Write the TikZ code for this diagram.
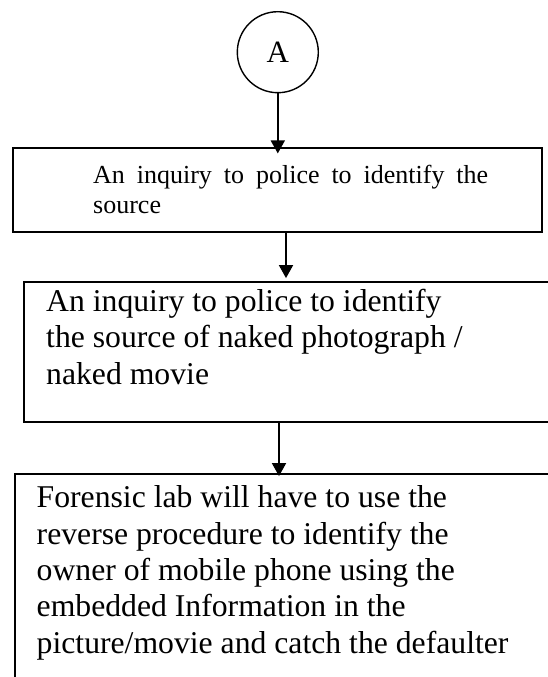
\documentclass[tikz,border=0pt]{standalone}
\usepackage{fontspec}
\setmainfont{Liberation Serif}
\usetikzlibrary{arrows.meta}
\tikzset{
  boxshape/.style={draw, line width=1.8pt, rectangle, inner sep=0pt},
  circshape/.style={draw, line width=1.4pt, circle, minimum size=81pt, inner sep=0pt, font=\fontsize{31}{36}\selectfont},
  arr/.style={line width=1.8pt, -{Triangle[length=13pt,width=14pt]}},
  txt/.style={anchor=base west, inner sep=0pt, align=left}
}
\begin{document}
\begin{tikzpicture}[x=1pt,y=-1pt]
\useasboundingbox (0,0) rectangle (548,677);
\clip (0,0) rectangle (548,677);
\fill[white] (0,0) rectangle (548,677);
% circle
\node[circshape] (A) at (277.8,52.2) {A};
% boxes
\node[boxshape, minimum width=529pt, minimum height=84pt] (b1) at (277.5,190.3) {};
\node[boxshape, minimum width=546pt, minimum height=140pt] (b2) at (297,352) {};
\node[boxshape, minimum width=560pt, minimum height=230pt] (b3) at (295,589) {};
% texts (anchored at the baseline of the last line)
\node[txt, font=\fontsize{26}{30}\selectfont] (t1) at (93,213)
  {\makebox[395pt][s]{An inquiry to police to identify the}\\source};
\node[txt, font=\fontsize{31.7}{36.5}\selectfont] (t2) at (46,384)
  {An inquiry to police to identify\\the source of naked photograph /\\naked movie};
\node[txt, font=\fontsize{31.7}{36.3}\selectfont] (t3) at (36.5,653)
  {Forensic lab will have to use the\\reverse procedure to identify the\\owner of mobile phone using the\\embedded Information in the\\picture/movie and catch the defaulter};
% arrows
\draw[arr] (A.south) -- ([yshift=-6pt]A.south |- b1.north);
\draw[arr] ([xshift=8.5pt]b1.south) -- ([xshift=8.5pt,yshift=3pt]b1.south |- b2.north);
\draw[arr] ([xshift=1.5pt]b2.south -| b1.south) -- ([xshift=1.5pt,yshift=-3pt]b1.south |- b3.north);
\end{tikzpicture}
\end{document}
